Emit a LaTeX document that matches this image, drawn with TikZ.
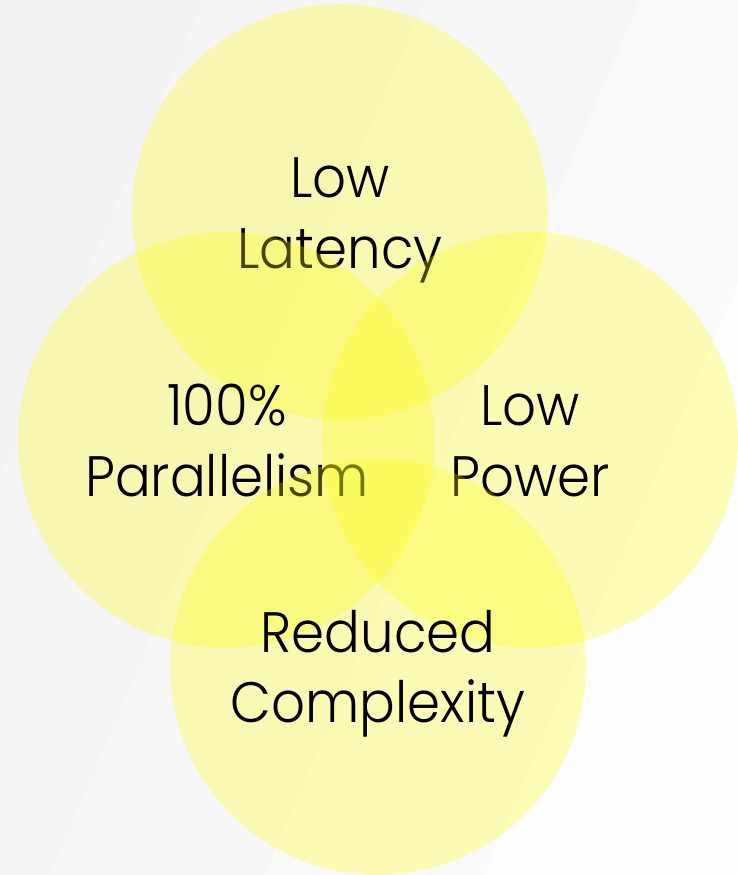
\documentclass[tikz,border=0pt]{standalone}
\usepackage{fontspec}
\setmainfont{Poppins}[UprightFont=* Light, FakeStretch=0.93]
\definecolor{bga}{RGB}{243,243,243}
\definecolor{bgb}{RGB}{245,245,245}
\definecolor{bgc}{RGB}{247,247,247}
\definecolor{bgd}{RGB}{250,250,250}
\definecolor{bge}{RGB}{253,253,253}
\definecolor{bgf}{RGB}{254,254,254}
\definecolor{ylw}{RGB}{255,255,0}
\tikzset{
  ring/.style={circle, minimum size=416pt, inner sep=0pt, fill=ylw, fill opacity=0.27},
  lbl/.style={anchor=base, inner sep=0pt, text=black, font=\fontsize{57}{71}\selectfont},
}
\begin{document}
\begin{tikzpicture}[x=1pt,y=-1pt]
\useasboundingbox (0,0) rectangle (737,875);
% background bands
\fill[bga] (0,0) rectangle (737,875);
\fill[bgb] (204,0) -- (1400,0) -- (1400,875) -- (-172,875) -- cycle;
\fill[bgc] (425,0) -- (1400,0) -- (1400,875) -- (49,875) -- cycle;
\fill[bgd] (640,0) -- (1400,0) -- (1400,875) -- (264,875) -- cycle;
\fill[bge] (860,0) -- (1400,0) -- (1400,875) -- (484,875) -- cycle;
\fill[bgf] (1080,0) -- (1400,0) -- (1400,875) -- (704,875) -- cycle;
% top
\node[ring] (ctop) at (340,212) {};
\node[lbl] (ttopa) at (340,197) {Low};
\node[lbl] (ttopb) at (340,268) {Latency};
% left
\node[ring] (cleft) at (226,440) {};
\node[lbl] (tlefta) at (227,425) {100\%};
\node[lbl] (tleftb) at (227,496) {Parallelism};
% right
\node[ring] (cright) at (530,440) {};
\node[lbl] (trighta) at (530,425) {Low};
\node[lbl] (trightb) at (530,496) {Power};
% bottom
\node[ring] (cbot) at (378,667) {};
\node[lbl] (tbota) at (378,652) {Reduced};
\node[lbl] (tbotb) at (378,722) {Complexity};
\end{tikzpicture}
\end{document}
